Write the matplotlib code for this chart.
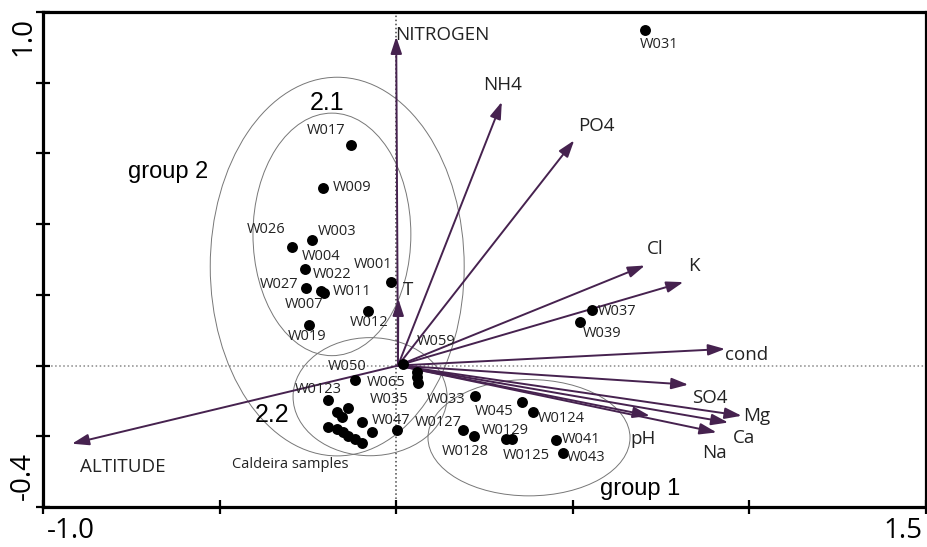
import matplotlib
matplotlib.use('Agg')
import matplotlib.pyplot as plt
from matplotlib.patches import Ellipse

# sample scores (axis 1, axis 2)
sample_names = ['W031', 'W017', 'W009', 'W026', 'W003', 'W004', 'W027', 'W022', 'W011',
                'W001', 'W012', 'W019', 'W037', 'W039', 'W059', 'W065', 'W065b', 'W035',
                'W050', 'W0123', 'C1', 'C2', 'C3', 'C4', 'C5', 'C6', 'C7', 'C8', 'C9',
                'C10', 'C11', 'W047', 'W033', 'W0127', 'W0128', 'W045', 'W0124', 'W0129',
                'W0125', 'W041', 'W043']
sample_x = [0.704, -0.128, -0.207, -0.296, -0.238, -0.259, -0.255, -0.214, -0.204,
            -0.016, -0.079, -0.248, 0.553, 0.520, 0.020, 0.058, 0.058, 0.061,
            -0.118, -0.192, -0.136, -0.168, -0.154, -0.098, -0.192, -0.168, -0.150, -0.136, -0.117,
            -0.098, -0.069, 0.001, 0.222, 0.190, 0.220, 0.355, 0.386, 0.311,
            0.327, 0.452, 0.473]
sample_y = [0.950, 0.625, 0.503, 0.335, 0.354, 0.272, 0.218, 0.212, 0.205,
            0.235, 0.153, 0.116, 0.156, 0.123, 0.004, -0.019, -0.033, -0.050,
            -0.041, -0.098, -0.120, -0.132, -0.146, -0.161, -0.173, -0.179, -0.189, -0.198, -0.208,
            -0.220, -0.189, -0.181, -0.086, -0.183, -0.198, -0.104, -0.132, -0.208,
            -0.208, -0.210, -0.246]

# environmental variable arrows
env_names = ['NITROGEN', 'NH4', 'PO4', 'Cl', 'K', 'cond', 'SO4', 'Mg', 'Ca', 'pH', 'Na', 'ALTITUDE', 'T']
env_x = [0.0, 0.299, 0.504, 0.704, 0.813, 0.931, 0.827, 0.978, 0.940, 0.718, 0.907, -0.918, 0.006]
env_y = [0.93, 0.746, 0.637, 0.283, 0.236, 0.047, -0.054, -0.142, -0.161, -0.142, -0.189, -0.221, 0.189]

# where the text of each label sits (left edge, vertical centre)
env_label_pos = {
    'NITROGEN': (-0.003, 0.935), 'NH4': (0.246, 0.793), 'PO4': (0.515, 0.677),
    'Cl': (0.710, 0.331), 'K': (0.826, 0.283), 'cond': (0.931, 0.031),
    'SO4': (0.837, -0.091), 'Mg': (0.982, -0.142), 'Ca': (0.953, -0.204),
    'pH': (0.662, -0.207), 'Na': (0.866, -0.246), 'ALTITUDE': (-0.895, -0.286),
    'T': (0.019, 0.215),
}
sample_label_pos = {
    'W031': (0.690, 0.909), 'W017': (-0.253, 0.666), 'W009': (-0.179, 0.504),
    'W026': (-0.422, 0.385), 'W003': (-0.221, 0.380), 'W004': (-0.267, 0.309),
    'W022': (-0.236, 0.258), 'W001': (-0.119, 0.286), 'W027': (-0.386, 0.229),
    'W011': (-0.179, 0.210), 'W007': (-0.315, 0.173), 'W012': (-0.131, 0.122),
    'W019': (-0.306, 0.082), 'W059': (0.059, 0.068), 'W050': (-0.193, -0.003),
    'W065': (-0.083, -0.048), 'W0123': (-0.287, -0.068), 'W035': (-0.074, -0.096),
    'W047': (-0.069, -0.156), 'W033': (0.087, -0.096), 'W0127': (0.053, -0.161),
    'W045': (0.223, -0.130), 'W0124': (0.401, -0.150), 'W0129': (0.243, -0.184),
    'W0128': (0.130, -0.244), 'W0125': (0.302, -0.255), 'W041': (0.470, -0.210),
    'W043': (0.484, -0.261), 'W037': (0.571, 0.153), 'W039': (0.529, 0.091),
}

# group ellipses: centre x, centre y, width, height
groups = [
    (-0.167, 0.280, 0.719, 1.071),   # group 2
    (-0.182, 0.371, 0.447, 0.686),   # 2.1
    (-0.074, -0.088, 0.436, 0.334),  # 2.2
    (0.376, -0.204, 0.572, 0.329),   # group 1
]

arrow_col = '#46224f'
font = ['Open Sans', 'DejaVu Sans']
font_grp = ['Liberation Sans', 'DejaVu Sans']

fig = plt.figure(figsize=(9.27, 5.47), dpi=100)
ax = fig.add_axes([43 / 927, 1 - 507 / 547, 883 / 927, 495 / 547])
ax.set_xlim(-1.0, 1.5)
ax.set_ylim(-0.4, 1.0)

for s in ax.spines.values():
    s.set_linewidth(2.3)
ax.set_xticks([-1.0, -0.5, 0.0, 0.5, 1.0, 1.5])
ax.set_yticks([-0.4, -0.2, 0.0, 0.2, 0.4, 0.6, 0.8, 1.0])
ax.tick_params(direction='inout', length=10, width=1.6, labelbottom=False, labelleft=False)

# dotted zero lines
ax.axvline(0, color='#444444', ls=':', lw=1.1, zorder=1)
ax.axhline(0, color='#888888', ls=':', lw=1.1, zorder=1)

for cx, cy, w, h in groups:
    ax.add_patch(Ellipse((cx, cy), w, h, fill=False, ec='#777777', lw=0.7, zorder=2))

for name, ex, ey in zip(env_names, env_x, env_y):
    ax.annotate('', xy=(ex, ey), xytext=(0.005, 0.0),
                arrowprops=dict(arrowstyle='-|>,head_length=0.6,head_width=0.2',
                                color=arrow_col, lw=1.4, mutation_scale=17,
                                shrinkA=0, shrinkB=0), zorder=3)
    lx, ly = env_label_pos[name]
    ax.text(lx, ly, name, ha='left', va='center', fontsize=13.5, color='#222222',
            family=font, zorder=5)

ax.scatter(sample_x, sample_y, s=62, color='black', zorder=4, linewidths=0)

for name, (lx, ly) in sample_label_pos.items():
    ax.text(lx, ly, name, ha='left', va='center', fontsize=10.5, color='#222222',
            family=font, zorder=5)

ax.text(-0.465, -0.280, 'Caldeira samples', ha='left', va='center', fontsize=10.5,
        color='#222222', family=font)

ax.text(-0.759, 0.530, 'group 2', ha='left', va='baseline', fontsize=17, family=font_grp)
ax.text(-0.244, 0.722, '2.1', ha='left', va='baseline', fontsize=18, family=font_grp)
ax.text(-0.400, -0.161, '2.2', ha='left', va='baseline', fontsize=18, family=font_grp)
ax.text(0.577, -0.365, 'group 1', ha='left', va='baseline', fontsize=17, family=font_grp)

# axis end labels
fig.text(47 / 927, 1 - 531 / 547, '-1.0', ha='left', va='center', fontsize=20, family=font)
fig.text(922 / 927, 1 - 531 / 547, '1.5', ha='right', va='center', fontsize=20, family=font)
fig.text(23 / 927, 1 - 36 / 547, '1.0', ha='center', va='center', rotation=90, fontsize=20, family=font)
fig.text(23 / 927, 1 - 476 / 547, '-0.4', ha='center', va='center', rotation=90, fontsize=20, family=font)

fig.savefig('out.png', dpi=100)
